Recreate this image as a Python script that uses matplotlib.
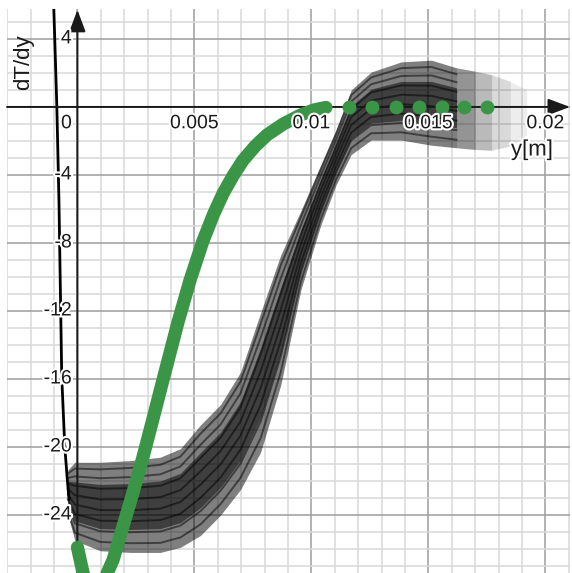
import matplotlib
matplotlib.use("Agg")
import matplotlib.pyplot as plt
import matplotlib.patheffects as pe
import numpy as np

# measured band of the recorded profiles (dense black region)
band_x = [-0.00041, -0.00011, 0.00097, 0.00225, 0.00354, 0.0044, 0.00526, 0.00612,
          0.00697, 0.00783, 0.00869, 0.00955, 0.0104, 0.01105, 0.0117, 0.01255,
          0.01384, 0.01513, 0.0162, 0.0170, 0.0177, 0.0185, 0.0192]
band_top = [-21.35, -20.9, -20.9, -20.8, -20.6, -20.1, -18.7, -17.5,
            -15.6, -12.1, -8.7, -6.1, -3.4, -1.35, 1.0, 2.05,
            2.65, 2.75, 2.3, 2.1, 1.9, 1.5, 1.0]
band_bot = [-24.0, -25.5, -26.1, -26.2, -26.2, -25.9, -25.2, -24.0,
            -22.5, -20.3, -16.35, -10.75, -6.95, -4.6, -2.8, -1.95,
            -1.95, -2.25, -2.4, -2.5, -2.55, -2.3, -1.65]
tail_start = 18  # index where the band fades out

# steep thin trace near the wall
wall_x = [-0.00101, -0.00088, -0.00079, -0.00067, -0.00054, -0.00045, -0.00036]
wall_y = [5.8, 0.0, -5.5, -15.9, -20.0, -21.6, -23.1]

# model curve (green)
model_x = [0.0, 0.00024, 0.0007, 0.00152, 0.00194, 0.00237, 0.0028, 0.00318,
           0.00361, 0.00395, 0.00429, 0.00481, 0.00536, 0.00582, 0.00622,
           0.00665, 0.00707, 0.0076, 0.0081, 0.0088, 0.00955, 0.0101, 0.01062]
model_y = [-25.9, -27.4, -29.2, -26.65, -24.7, -22.7, -20.6, -18.6,
           -16.3, -14.5, -12.7, -10.2, -7.9, -6.3, -5.1,
           -4.05, -3.15, -2.3, -1.65, -1.0, -0.47, -0.18, -0.03]

dots_x = [0.0116, 0.0126, 0.0136, 0.0146, 0.0156, 0.0165, 0.0175]
dots_y = [0, 0, 0, 0, 0, 0, 0]

x_major = [0, 0.005, 0.01, 0.015, 0.02]
x_labels = ["0", "0.005", "0.01", "0.015", "0.02"]
y_major = [-24, -20, -16, -12, -8, -4, 4]
y_labels = ["-24", "-20", "-16", "-12", "-8", "-4", "4"]

GREEN = "#3a9646"
FONT = "Liberation Sans"

W, H = 572, 573
fig = plt.figure(figsize=(W / 100, H / 100), dpi=100)
ax = fig.add_axes([7 / W, 0, (570 - 7) / W, (573 - 9) / H])
xmin, xmax = -0.00301, 0.02105
ymin, ymax = -27.41, 5.76

ax.set_xticks([v * 0.005 for v in range(0, 5)])
ax.set_xticks([v * 0.001 for v in range(-3, 22)], minor=True)
ax.set_yticks(list(range(-24, 8, 4)))
ax.set_yticks(list(range(-27, 6)), minor=True)
ax.set_xlim(xmin, xmax)
ax.set_ylim(ymin, ymax)
ax.grid(which="minor", color="#d8d8d8", lw=1.1)
ax.grid(which="major", color="#9c9c9c", lw=1.1)
ax.tick_params(which="both", length=0, labelbottom=False, labelleft=False)
for s in ax.spines.values():
    s.set_visible(False)
ax.set_axisbelow(True)

# axes with arrows
arrow = dict(arrowstyle="-|>,head_length=0.75,head_width=0.28",
             color="#1a1a1a", lw=1.4, mutation_scale=18, shrinkA=0, shrinkB=0)
ax.annotate("", xy=(xmax, 0), xytext=(xmin, 0), arrowprops=arrow)
ax.annotate("", xy=(0, ymax - 0.05), xytext=(0, ymin), arrowprops=arrow)

# recorded band
bx = np.array(band_x)
bt = np.array(band_top)
bb = np.array(band_bot)
n = tail_start + 1
ax.fill_between(bx[:n], bb[:n], bt[:n], color="black", alpha=0.5, lw=0)
for f in [0.1, 0.22, 0.34, 0.46, 0.58, 0.7, 0.82, 0.92]:
    ax.plot(bx[:n], bt[:n] * f + bb[:n] * (1 - f), color="black", lw=1.4, alpha=0.5)
core_t = bt * 0.75 + bb * 0.25
core_b = bt * 0.25 + bb * 0.75
ax.fill_between(bx[:n], core_b[:n], core_t[:n], color="black", alpha=0.5, lw=0)
fade = [0.42, 0.27, 0.15, 0.07]
for i, a in zip(range(tail_start, len(bx) - 1), fade):
    ax.fill_between(bx[i:i + 2], bb[i:i + 2], bt[i:i + 2], color="black", alpha=a, lw=0)

ax.plot(wall_x, wall_y, color="black", lw=2.0, solid_capstyle="round")

# model
ax.plot(model_x, model_y, color=GREEN, lw=9.5, solid_capstyle="round",
        solid_joinstyle="round", zorder=5)
ax.plot(dots_x, dots_y, "o", color=GREEN, ms=10, mec="none", zorder=5)

halo = [pe.withStroke(linewidth=3, foreground="white")]
for v, lab in zip(x_major, x_labels):
    if v == 0:
        ax.annotate(lab, xy=(0, 0), xytext=(-4, -6), textcoords="offset points",
                    ha="right", va="top", fontsize=14, family=FONT,
                    color="#1a1a1a", path_effects=halo, zorder=6)
    else:
        ax.annotate(lab, xy=(v, 0), xytext=(0, -6), textcoords="offset points",
                    ha="center", va="top", fontsize=14, family=FONT,
                    color="#1a1a1a", path_effects=halo, zorder=6)
for v, lab in zip(y_major, y_labels):
    ax.annotate(lab, xy=(0, v), xytext=(-4, 0), textcoords="offset points",
                ha="right", va="center", fontsize=14, family=FONT,
                color="#1a1a1a", path_effects=halo, zorder=6)

fig.text(24 / W, 1 - 62 / H, "dT/dy", rotation=90, ha="center", va="center",
         fontsize=16, family=FONT, color="#1a1a1a")
fig.text(532 / W, 1 - 150 / H, "y[m]", ha="center", va="center",
         fontsize=16, family=FONT, color="#1a1a1a", path_effects=halo)

fig.savefig("out.png", dpi=100)
